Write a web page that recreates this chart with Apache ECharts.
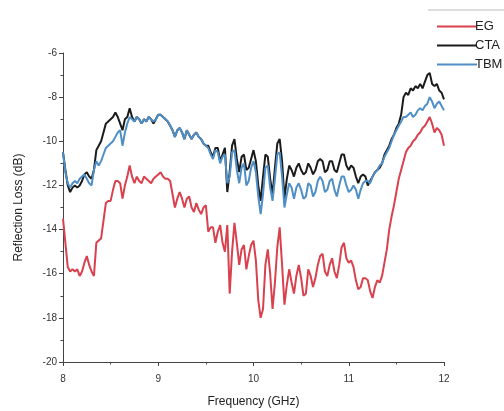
<!DOCTYPE html>
<html>
<head>
<meta charset="utf-8">
<script src="https://cdn.jsdelivr.net/npm/echarts@6/dist/echarts.min.js"></script>
<style>
  html, body { margin: 0; padding: 0; background: #fff; }
  #chart { width: 504px; height: 411px; }
</style>
</head>
<body>
<div id="chart"></div>
<script>
// frequency grid (GHz)
var freq = [
  8.000, 8.025, 8.050, 8.075, 8.100, 8.125, 8.150, 8.175, 8.200, 8.225, 8.250, 8.275, 8.300, 8.325, 8.350, 8.375,
  8.400, 8.425, 8.450, 8.475, 8.500, 8.525, 8.550, 8.575, 8.600, 8.625, 8.650, 8.675, 8.700, 8.725, 8.750, 8.775,
  8.800, 8.825, 8.850, 8.875, 8.900, 8.925, 8.950, 8.975, 9.000, 9.025, 9.050, 9.075, 9.100, 9.125, 9.150, 9.175,
  9.200, 9.225, 9.250, 9.275, 9.300, 9.325, 9.350, 9.375, 9.400, 9.425, 9.450, 9.475, 9.500, 9.525, 9.550, 9.575,
  9.600, 9.625, 9.650, 9.675, 9.700, 9.725, 9.750, 9.775, 9.800, 9.825, 9.850, 9.875, 9.900, 9.925, 9.950, 9.975,
  10.000, 10.025, 10.050, 10.075, 10.100, 10.125, 10.150, 10.175, 10.200, 10.225, 10.250, 10.275, 10.300, 10.325, 10.350, 10.375,
  10.400, 10.425, 10.450, 10.475, 10.500, 10.525, 10.550, 10.575, 10.600, 10.625, 10.650, 10.675, 10.700, 10.725, 10.750, 10.775,
  10.800, 10.825, 10.850, 10.875, 10.900, 10.925, 10.950, 10.975, 11.000, 11.025, 11.050, 11.075, 11.100, 11.125, 11.150, 11.175,
  11.200, 11.225, 11.250, 11.275, 11.300, 11.325, 11.350, 11.375, 11.400, 11.425, 11.450, 11.475, 11.500, 11.525, 11.550, 11.575,
  11.600, 11.625, 11.650, 11.675, 11.700, 11.725, 11.750, 11.775, 11.800, 11.825, 11.850, 11.875, 11.900, 11.925, 11.950, 11.975,
  12.000
];

// reflection loss (dB)
var eg = [
  -13.5, -14.6, -15.7, -15.9, -15.8, -15.9, -15.8, -16.1, -15.9, -15.5, -15.2, -15.6, -15.9, -16.1, -14.6, -14.5,
  -14.4, -13.6, -12.8, -12.7, -12.7, -12.2, -11.8, -11.8, -11.9, -12.6, -12.0, -11.6, -11.1, -11.6, -11.9, -11.6,
  -11.8, -11.9, -11.6, -11.7, -11.8, -11.9, -11.7, -11.6, -11.5, -11.4, -11.6, -11.7, -11.7, -11.8, -12.4, -13.0,
  -12.6, -12.3, -12.6, -13.0, -12.6, -12.5, -13.0, -13.2, -12.8, -13.1, -13.3, -13.0, -12.9, -14.1, -13.9, -13.9,
  -14.6, -14.1, -13.8, -14.6, -15.0, -13.8, -16.9, -15.0, -13.7, -14.6, -15.6, -14.9, -14.7, -15.8, -15.2, -14.7,
  -14.5, -15.4, -17.2, -18.0, -17.6, -15.6, -14.9, -16.0, -17.6, -16.4, -14.8, -13.9, -15.6, -17.4, -16.5, -15.8,
  -16.4, -16.9, -16.1, -15.6, -16.2, -17.0, -16.9, -15.8, -16.1, -16.6, -16.2, -15.6, -15.2, -15.1, -15.9, -16.1,
  -15.6, -15.3, -15.9, -16.2, -15.6, -14.8, -14.6, -15.3, -15.5, -15.4, -15.7, -16.3, -16.7, -16.6, -16.2, -16.2,
  -16.3, -16.8, -17.1, -16.6, -16.3, -16.4, -16.1, -15.5, -14.9, -14.0, -13.4, -12.9, -12.3, -11.7, -11.3, -10.9,
  -10.5, -10.3, -10.2, -10.0, -9.9, -9.7, -9.6, -9.4, -9.3, -9.1, -8.9, -9.2, -9.6, -9.4, -9.5, -9.7,
  -10.2
];

var cta = [
  -10.5, -11.3, -12.0, -12.3, -12.1, -12.0, -12.1, -12.0, -11.8, -11.5, -11.4, -11.6, -11.7, -11.3, -10.4, -10.2,
  -10.0, -9.6, -9.2, -9.1, -9.0, -8.9, -8.7, -8.9, -9.2, -9.5, -9.0, -8.9, -8.5, -8.9, -9.1, -8.9,
  -9.0, -9.2, -9.0, -9.1, -8.9, -9.0, -9.2, -9.0, -8.8, -8.8, -8.9, -9.0, -9.1, -9.3, -9.5, -9.8,
  -9.5, -9.4, -9.6, -9.9, -9.5, -9.7, -9.9, -9.7, -9.6, -9.8, -9.9, -10.1, -10.2, -10.2, -10.5, -10.7,
  -10.3, -10.3, -10.9, -10.6, -10.3, -12.3, -11.4, -10.2, -9.9, -10.8, -11.4, -10.7, -10.6, -11.3, -11.2, -10.8,
  -10.4, -10.9, -12.0, -12.7, -11.6, -10.6, -10.7, -11.7, -12.4, -11.2, -10.1, -9.9, -10.9, -12.6, -11.7, -11.1,
  -11.3, -11.6, -11.2, -11.0, -11.3, -11.5, -11.4, -11.0, -11.2, -11.5, -11.3, -10.9, -10.8, -10.9, -11.4, -11.3,
  -10.9, -10.9, -11.3, -11.4, -11.0, -10.6, -10.6, -11.1, -11.3, -11.1, -11.2, -11.6, -11.9, -11.6, -11.5, -11.6,
  -12.0, -11.8, -11.6, -11.4, -11.3, -11.2, -11.0, -10.6, -10.4, -10.2, -9.9, -9.7, -9.4, -9.2, -8.8, -8.0,
  -7.8, -7.9, -7.6, -7.7, -7.5, -7.6, -7.4, -7.6, -7.3, -7.0, -6.9, -7.4, -7.5, -7.4, -7.7, -7.8,
  -8.1
];

var tbm = [
  -10.5, -11.4, -11.9, -12.1, -11.9, -11.8, -11.9, -11.7, -11.6, -11.5, -11.7, -11.9, -12.0, -11.3, -10.9, -11.1,
  -10.9, -10.6, -10.3, -10.2, -10.1, -10.0, -9.8, -9.6, -9.5, -10.2, -9.6, -9.2, -8.9, -9.0, -9.1, -8.9,
  -9.0, -9.2, -9.0, -9.1, -8.9, -9.0, -9.1, -9.0, -8.8, -8.8, -8.9, -9.0, -9.1, -9.3, -9.5, -9.8,
  -9.5, -9.4, -9.6, -9.9, -9.5, -9.7, -9.9, -9.7, -9.6, -9.8, -9.9, -10.1, -10.2, -10.3, -10.6, -10.8,
  -10.4, -10.5, -11.0, -10.7, -10.6, -11.9, -11.6, -10.5, -10.4, -11.3, -11.9, -11.2, -11.0, -12.0, -11.8, -11.2,
  -10.9, -11.4, -12.5, -13.3, -12.4, -11.2, -11.1, -12.1, -12.7, -11.7, -10.6, -10.5, -11.6, -13.0, -12.4, -11.9,
  -12.1, -12.6, -12.1, -11.9, -12.2, -12.6, -12.5, -11.9, -12.0, -12.5, -12.3, -11.8, -11.6, -11.8, -12.3, -12.2,
  -11.8, -11.7, -12.2, -12.5, -12.0, -11.6, -11.6, -12.0, -12.3, -12.2, -12.0, -12.2, -12.6, -12.2, -11.9, -11.8,
  -11.8, -11.9, -11.6, -11.4, -11.3, -11.1, -11.0, -10.7, -10.5, -10.3, -10.0, -9.7, -9.5, -9.3, -9.1, -8.9,
  -8.9, -8.8, -8.7, -8.9, -8.8, -8.6, -8.5, -8.6, -8.4, -8.3, -8.0, -8.2, -8.5, -8.3, -8.2, -8.4,
  -8.6
];

var seriesNames = ['EG', 'CTA', 'TBM'];
var seriesColors = ['#d8414d', '#1b1b1b', '#4f8fc6'];

function pairs(vals) {
  return freq.map(function (f, i) { return [f, vals[i]]; });
}

var chart = echarts.init(document.getElementById('chart'), null, { renderer: 'canvas' });
var axisColor = '#444';
var font = 'Liberation Sans, Arial, sans-serif';

chart.setOption({
  animation: false,
  backgroundColor: '#fff',
  textStyle: { fontFamily: font },
  legend: {
    orient: 'vertical',
    left: 432,
    top: 15,
    itemGap: 6,
    itemWidth: 40,
    itemHeight: 8,
    icon: 'path://M0,4 L40,4 L40,5.8 L0,5.8 Z',
    textStyle: { fontFamily: font, fontSize: 13, color: '#222', padding: [0, 0, 0, -7] },
    data: seriesNames
  },
  graphic: [{
    type: 'line',
    shape: { x1: 428, y1: 10, x2: 504, y2: 10 },
    style: { stroke: '#bbb', lineWidth: 1 },
    silent: true
  }],
  grid: { left: 63, right: 60, top: 53, bottom: 49, outerBoundsMode: 'none' },
  xAxis: {
    type: 'value',
    min: 8,
    max: 12,
    interval: 1,
    name: 'Frequency (GHz)',
    nameLocation: 'middle',
    nameGap: 34,
    nameTextStyle: { fontSize: 12, color: '#222', fontFamily: font },
    axisLine: { lineStyle: { color: axisColor, width: 1 } },
    axisTick: { show: true, length: 4, lineStyle: { color: axisColor } },
    minorTick: { show: true, splitNumber: 2, length: 2.5, lineStyle: { color: axisColor } },
    axisLabel: { color: '#333', fontSize: 10, margin: 12, fontFamily: font },
    splitLine: { show: false }
  },
  yAxis: {
    type: 'value',
    min: -20,
    max: -6,
    interval: 2,
    name: 'Reflection Loss (dB)',
    nameLocation: 'middle',
    nameGap: 38,
    nameTextStyle: { fontSize: 12, color: '#222', fontFamily: font },
    axisLine: { show: true, lineStyle: { color: axisColor, width: 1 } },
    axisTick: { show: true, length: 4, lineStyle: { color: axisColor } },
    minorTick: { show: true, splitNumber: 2, length: 2.5, lineStyle: { color: axisColor } },
    axisLabel: { color: '#333', fontSize: 10, margin: 6, fontFamily: font },
    splitLine: { show: false }
  },
  series: seriesNames.map(function (name, idx) {
    var vals = [eg, cta, tbm][idx];
    return {
      name: name,
      type: 'line',
      data: pairs(vals),
      showSymbol: false,
      symbol: 'none',
      color: seriesColors[idx],
      lineStyle: { width: 2, color: seriesColors[idx] },
      z: 2 + idx
    };
  })
});
</script>
</body>
</html>
